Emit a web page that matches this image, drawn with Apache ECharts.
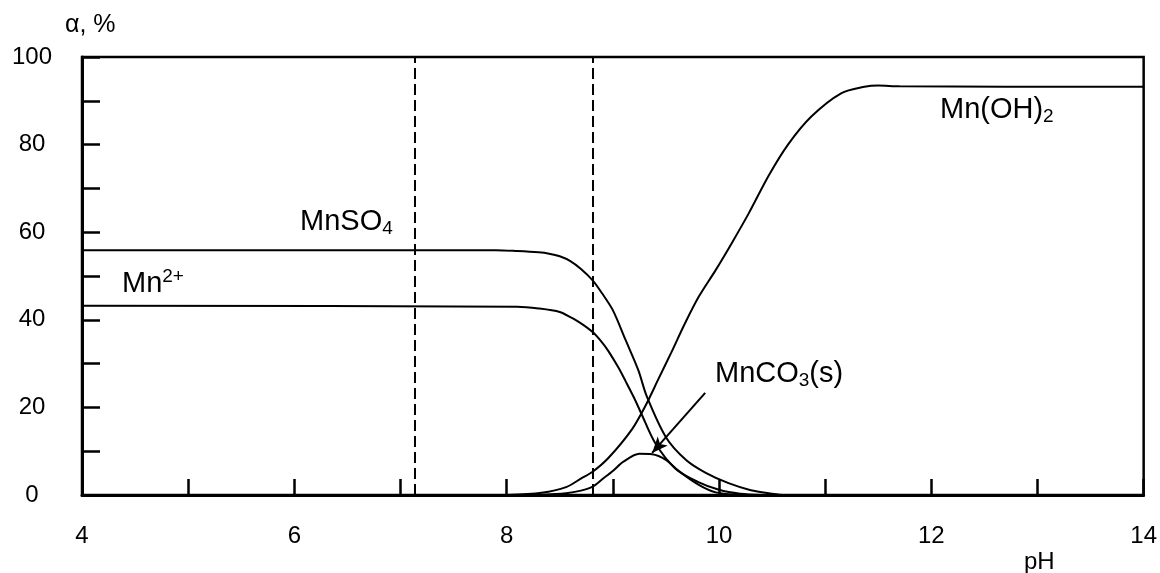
<!DOCTYPE html>
<html>
<head>
<meta charset="utf-8">
<script src="https://cdn.jsdelivr.net/npm/echarts@6/dist/echarts.min.js"></script>
<style>
html,body{margin:0;padding:0;background:#fff;}
#c{width:1160px;height:573px;}
</style>
</head>
<body>
<div id="c"></div>
<script>
// pH values and fractions (%)
const mnso4 = [[4,55.9],[7.9,55.9],[8.1,55.7],[8.3,55.4],[8.4,55.1],[8.5,54.5],[8.6,53.4],[8.7,51.6],[8.81,49],[8.9,46],[9.0,42.2],[9.12,35.4],[9.24,28.5],[9.32,22.5],[9.5,13.2],[9.69,8],[9.88,5],[10.09,2.7],[10.3,1.1],[10.5,0.3],[10.6,0]];
const mn2 = [[4,43.2],[8.1,43],[8.3,42.6],[8.5,41.8],[8.6,40.6],[8.7,39.2],[8.81,37.2],[8.9,34.8],[8.96,32.8],[9.05,29.2],[9.12,26],[9.2,22.2],[9.27,18.5],[9.4,11.8],[9.59,6],[9.8,3],[10.0,1.2],[10.2,0.3],[10.4,0]];
const mnco3 = [[8.3,0],[8.56,0.4],[8.7,1.0],[8.81,1.9],[8.9,3.6],[9.0,5.5],[9.1,7.6],[9.25,9.4],[9.37,9.3],[9.5,8],[9.62,5.5],[9.81,2.3],[9.97,0.6],[10.2,0]];
const mnoh2 = [[8.0,0],[8.33,0.5],[8.56,1.8],[8.71,3.9],[8.81,5.3],[8.96,8.5],[9.18,15],[9.31,20.5],[9.43,26.5],[9.55,32.5],[9.68,39.2],[9.81,45.3],[9.97,51.4],[10.12,57.5],[10.28,64.3],[10.47,73],[10.65,80],[10.87,86.4],[11.15,91.7],[11.37,93.2],[11.5,93.5],[11.7,93.3],[14,93.2]];
const dashedPH = [7.13, 8.81];
const arrowFrom = [9.87, 23.3];
const arrowTo = [9.37, 9.6];
const xTickLabels = [4, 6, 8, 10, 12, 14];
const yTickLabels = [0, 20, 40, 60, 80, 100];

const chart = echarts.init(document.getElementById('c'));
const FONT = 'Liberation Sans, Arial, sans-serif';
const lineStyle = {color:'#000', width:2};
function mk(name, data){
  return {name, type:'line', data, showSymbol:false, symbol:'none', smooth:0.3, lineStyle, z:3};
}
const s1 = mk('MnSO4', mnso4);
s1.markLine = {
  silent:true, symbol:'none', label:{show:false},
  lineStyle:{color:'#000', width:2, type:[11,5]},
  data: dashedPH.map(v => ({xAxis:v}))
};
const s2 = mk('Mn2+', mn2);
s2.markLine = {
  silent:true, symbol:['none','arrow'], symbolSize:[10,16], label:{show:false},
  lineStyle:{color:'#000', width:2, type:'solid'},
  data: [[{coord:arrowFrom},{coord:arrowTo}]]
};
const sub = {fontSize:19, lineHeight:14, verticalAlign:'bottom', fontFamily:FONT, fill:'#000'};
const sup = {fontSize:19, lineHeight:18, verticalAlign:'top', fontFamily:FONT, fill:'#000'};
const main = {fontSize:29, lineHeight:34, fontFamily:FONT, fill:'#000'};
function lbl(left, top, text){
  return {type:'text', left, top, style:{text, rich:{a:main, s:sub, p:sup}, fontSize:29, fontFamily:FONT, fill:'#000'}};
}
chart.setOption({
  animation:false,
  backgroundColor:'#fff',
  grid:{left:82, right:14, top:57, bottom:78, show:true, borderColor:'#000', borderWidth:2.5, backgroundColor:'transparent'},
  xAxis:{
    type:'value', min:4, max:14, interval:1,
    axisLine:{show:true, onZero:false, lineStyle:{color:'#000', width:3}},
    axisTick:{show:true, inside:true, length:16, lineStyle:{color:'#000', width:2.5}},
    splitLine:{show:false},
    axisLabel:{fontSize:24, color:'#000', fontFamily:FONT, margin:29,
      formatter:v => xTickLabels.indexOf(v) >= 0 ? String(v) : ''}
  },
  yAxis:{
    type:'value', min:0, max:100, interval:10,
    axisLine:{show:true, lineStyle:{color:'#000', width:3}},
    axisTick:{show:true, inside:true, length:18, lineStyle:{color:'#000', width:2.5}},
    splitLine:{show:false},
    axisLabel:{fontSize:24, color:'#000', fontFamily:FONT, margin:50, align:'center',
      formatter:v => yTickLabels.indexOf(v) >= 0 ? String(v) : ''}
  },
  series:[s1, s2, mk('MnCO3(s)', mnco3), mk('Mn(OH)2', mnoh2)],
  graphic:[
    {type:'text', left:65, top:13, style:{text:'α, %', fontSize:25, fontFamily:FONT, fill:'#000'}},
    {type:'text', left:1024, top:550, style:{text:'pH', fontSize:24, fontFamily:FONT, fill:'#000'}},
    lbl(300, 207, '{a|MnSO}{s|4}'),
    lbl(122, 267, '{a|Mn}{p|2+}'),
    lbl(715, 359, '{a|MnCO}{s|3}{a|(s)}'),
    lbl(940, 95, '{a|Mn(OH)}{s|2}')
  ]
});
</script>
</body>
</html>
